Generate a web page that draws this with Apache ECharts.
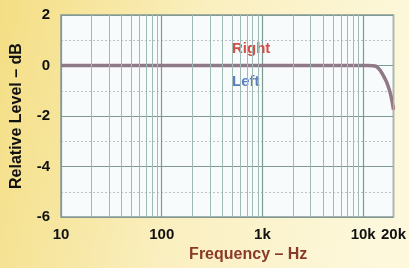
<!DOCTYPE html>
<html>
<head>
<meta charset="utf-8">
<script src="https://cdn.jsdelivr.net/npm/echarts@6/dist/echarts.min.js"></script>
<style>
  html, body { margin: 0; padding: 0; }
  #chart { width: 409px; height: 268px; }
</style>
</head>
<body>
<div id="chart"></div>
<script>
// frequency points (Hz) and level (dB) for each channel
const freqs = [10, 20, 50, 100, 200, 500, 1000, 2000, 5000, 10000, 11000, 13400, 14800, 15800, 17000, 18200, 19100, 20000];
const rightLevel = [0, 0, 0, 0, 0, 0, 0, 0, 0, 0, 0, -0.03, -0.2, -0.39, -0.64, -0.97, -1.3, -1.75];
const leftLevel = [0, 0, 0, 0, 0, 0, 0, 0, 0, 0, 0, -0.02, -0.17, -0.35, -0.6, -0.93, -1.25, -1.65];
const xTickLabels = ['10', '100', '1k', '10k', '20k'];
const yTicks = [-6, -4, -2, 0, 2];

// minor vertical grid lines 20..90, 200..900 ...
const minorFreqs = [];
[10, 100, 1000].forEach(function (d) {
  for (let k = 2; k <= 9; k++) minorFreqs.push(d * k);
});
minorFreqs.push(20000);

const chart = echarts.init(document.getElementById('chart'));

const fontFamily = '"Liberation Sans", Arial, sans-serif';

const option = {
  backgroundColor: new echarts.graphic.LinearGradient(0, 0, 1, 0.3, [
    { offset: 0, color: '#f4de84' },
    { offset: 0.5, color: '#faefbf' },
    { offset: 1, color: '#fdf8dc' }
  ]),
  textStyle: { fontFamily: fontFamily },
  animation: false,
  grid: {
    left: 61, right: 14, top: 15, bottom: 46,
    show: true,
    backgroundColor: '#f7fbfb',
    borderColor: '#8a9995',
    borderWidth: 1.5
  },
  legend: {
    orient: 'vertical',
    left: 222,
    top: 36,
    itemGap: 18,
    itemWidth: 0,
    itemHeight: 14,
    icon: 'none',
    selectedMode: false,
    textStyle: { fontSize: 15, fontWeight: 'bold', fontFamily: fontFamily },
    data: [
      { name: 'Right', textStyle: { color: '#d44d46' } },
      { name: 'Left', textStyle: { color: '#5b80c2' } }
    ]
  },
  xAxis: {
    type: 'log',
    logBase: 10,
    min: 10,
    max: 20000,
    name: 'Frequency – Hz',
    nameLocation: 'middle',
    nameGap: 28,
    nameTextStyle: {
      color: '#8a3a28', fontSize: 16, fontWeight: 'bold',
      padding: [0, 0, 0, 42]
    },
    axisLine: { show: false },
    axisTick: { show: false },
    axisLabel: {
      color: '#111', fontSize: 15, fontWeight: 'bold', margin: 10,
      showMinLabel: true, showMaxLabel: true, interval: 0, hideOverlap: false,
      formatter: function (v) {
        const i = [10, 100, 1000, 10000, 20000].indexOf(Math.round(v));
        return i >= 0 ? xTickLabels[i] : '';
      }
    },
    splitLine: { show: true, lineStyle: { color: '#7e9a93', width: 1.2 } }
  },
  yAxis: {
    type: 'value',
    min: yTicks[0],
    max: yTicks[yTicks.length - 1],
    interval: 2,
    name: 'Relative Level – dB',
    nameLocation: 'middle',
    nameGap: 36,
    nameTextStyle: { color: '#111', fontSize: 16, fontWeight: 'bold' },
    axisLine: { show: false },
    axisTick: { show: false },
    axisLabel: { color: '#111', fontSize: 15, fontWeight: 'bold', margin: 11 },
    splitLine: { show: true, lineStyle: { color: '#7e9a93', width: 1.2 } },
    minorTick: { show: false, splitNumber: 2 },
    minorSplitLine: { show: true, lineStyle: { color: '#bdbfcc', type: [2, 2], width: 1 } }
  },
  series: [
    {
      name: 'grid',
      type: 'line',
      data: [],
      z: 1,
      silent: true,
      markLine: {
        silent: true,
        symbol: 'none',
        label: { show: false },
        lineStyle: { color: '#a0bab3', type: 'solid', width: 1 },
        data: minorFreqs.map(function (f) { return { xAxis: f }; })
      }
    },
    {
      name: 'Right',
      type: 'line',
      data: freqs.map(function (f, i) { return [f, rightLevel[i]]; }),
      showSymbol: false,
      smooth: 0.3,
      z: 3,
      lineStyle: { color: '#a07680', width: 3.5 }
    },
    {
      name: 'Left',
      type: 'line',
      data: freqs.map(function (f, i) { return [f, leftLevel[i]]; }),
      showSymbol: false,
      smooth: 0.3,
      z: 4,
      lineStyle: { color: '#827e8e', width: 2, opacity: 0.85 }
    }
  ]
};

chart.setOption(option);
</script>
</body>
</html>
